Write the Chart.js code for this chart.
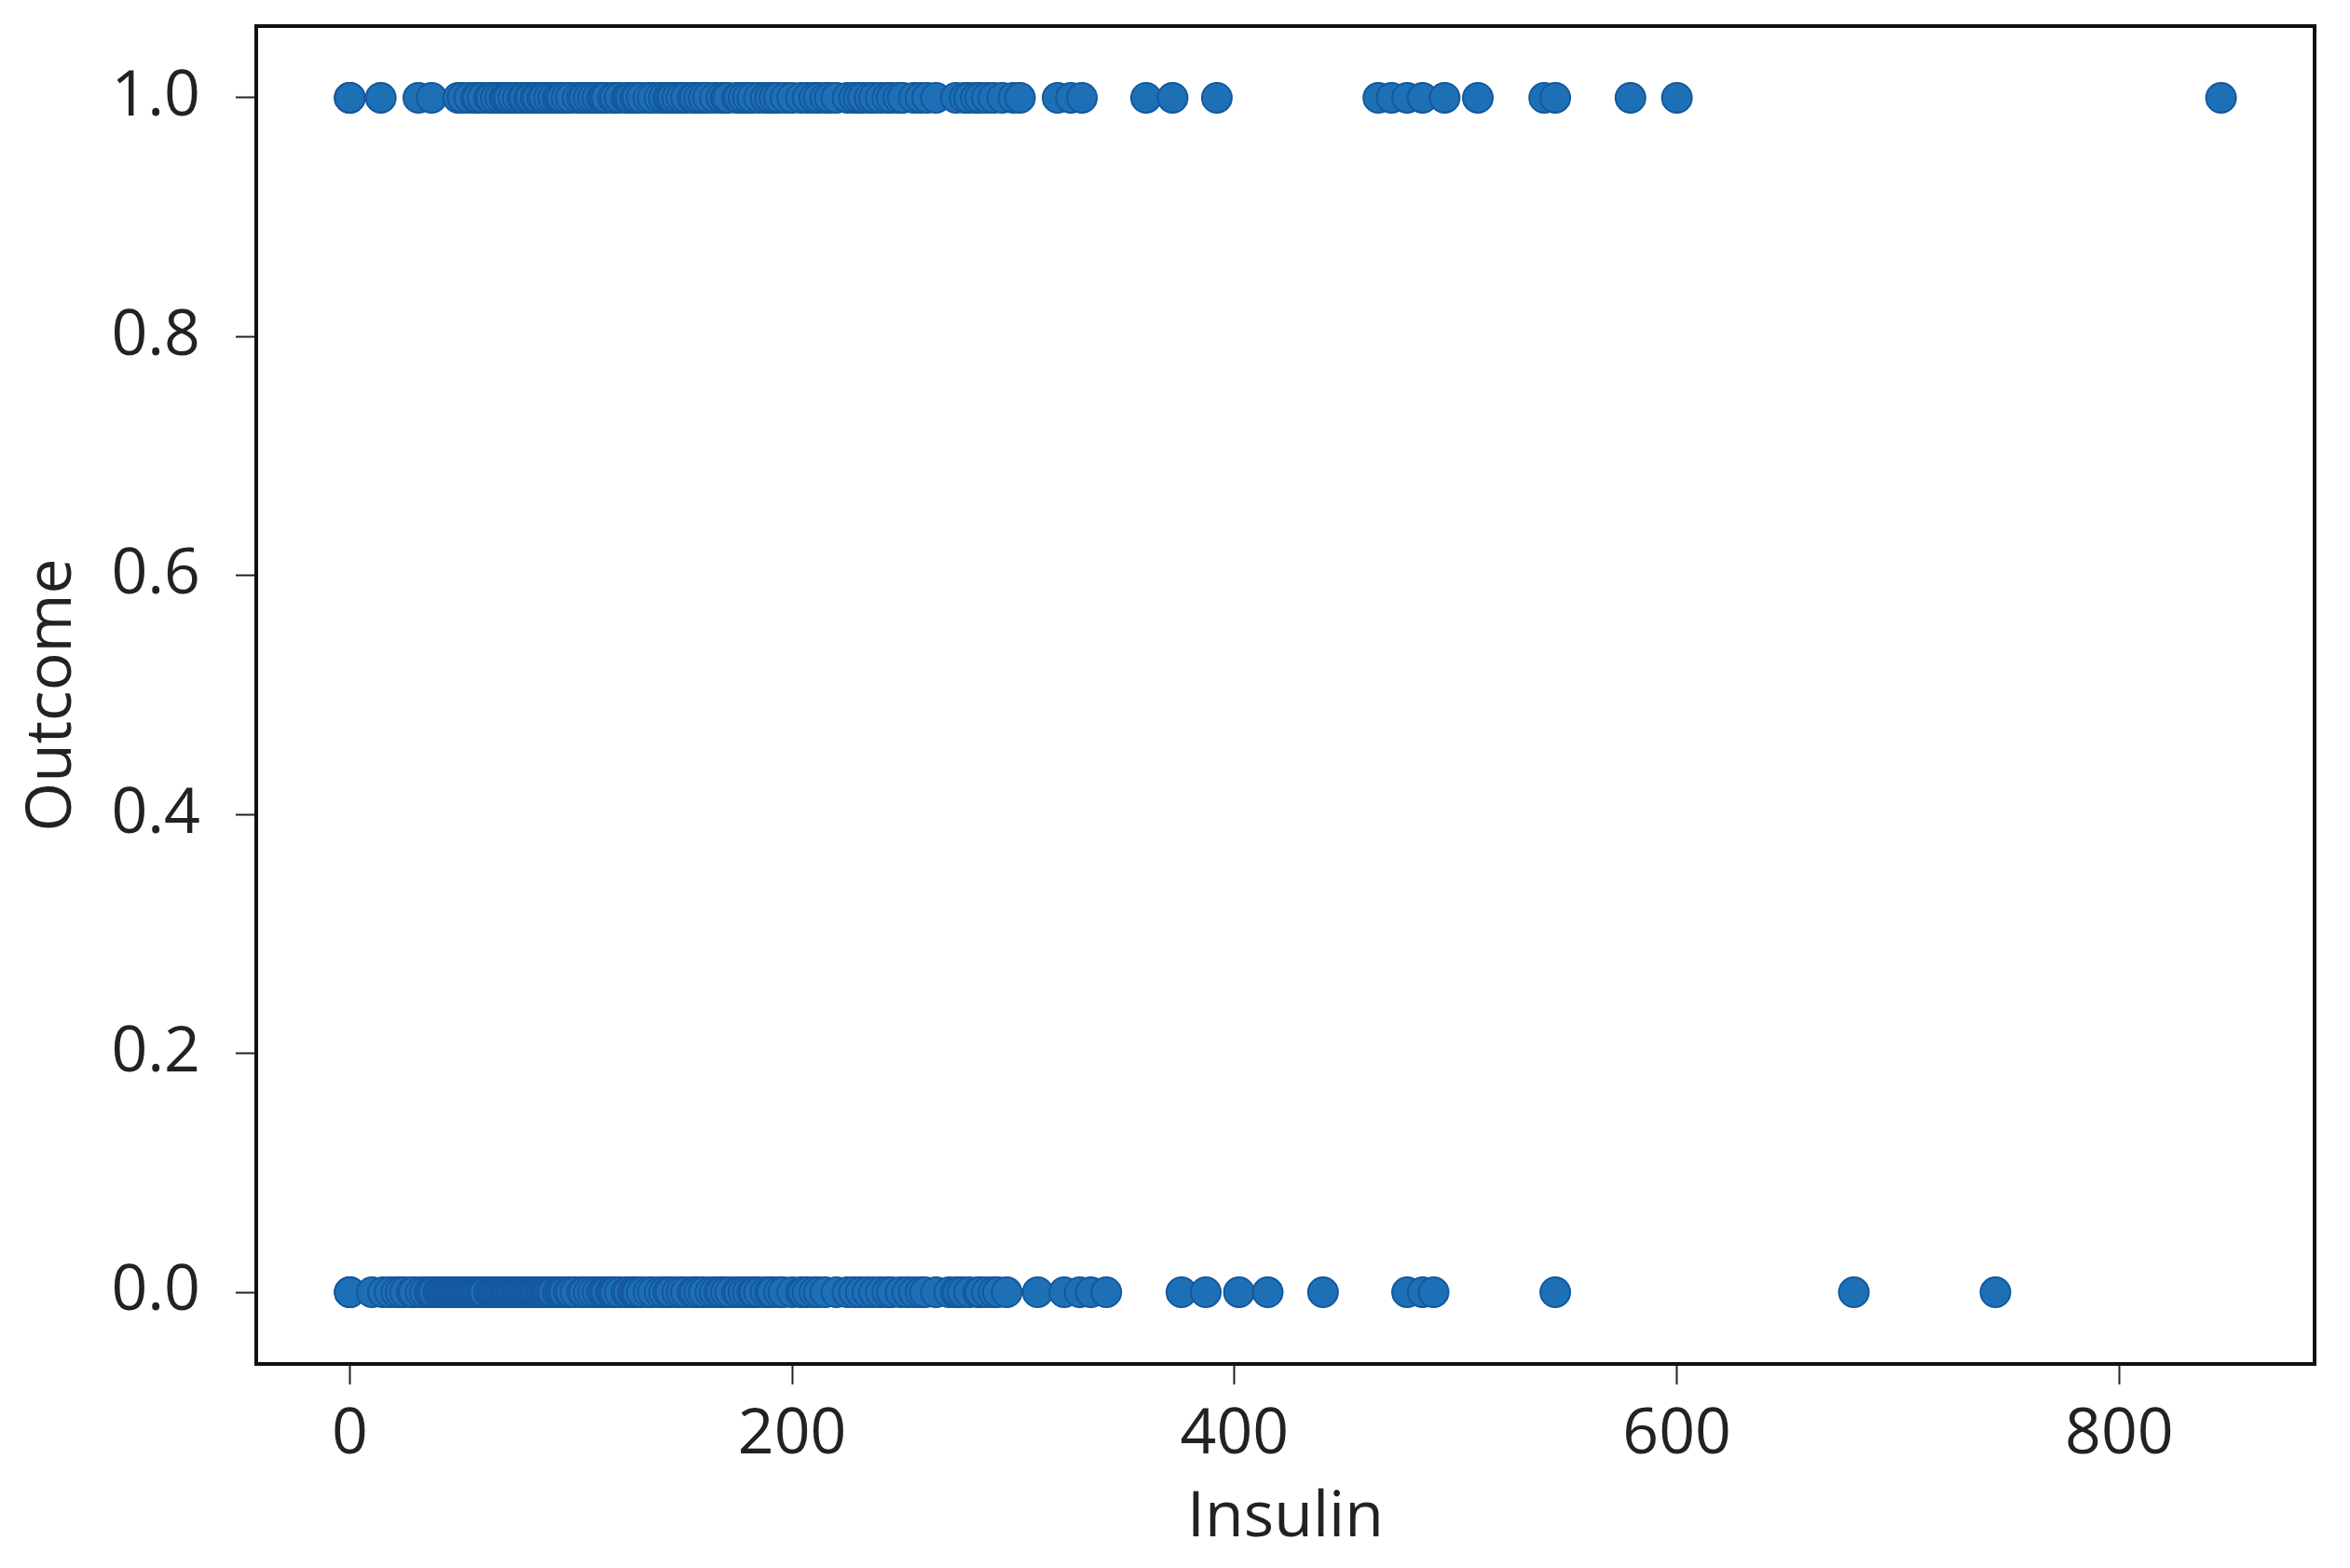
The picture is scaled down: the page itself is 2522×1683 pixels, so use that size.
<!DOCTYPE html>
<html>
<head>
<meta charset="utf-8">
<script src="https://cdn.jsdelivr.net/npm/chart.js@4.4.1/dist/chart.umd.min.js"></script>
<style>
  html, body { margin: 0; padding: 0; background: #fff; }
  canvas { display: block; }
</style>
</head>
<body>
<canvas id="myChart" width="2522" height="1683"></canvas>
<script>
// Insulin values per outcome
const insulinOutcome1 = [0, 0, 0, 14, 31, 37, 49, 51, 54, 57, 58, 60, 63, 64, 66, 68, 70, 71, 72, 74, 76, 78, 79, 81, 82, 84, 85, 87, 88, 90, 92, 94, 95, 96, 98, 100, 103, 105, 106, 108, 110, 112, 114, 115, 116, 119, 120, 122, 125, 126, 127, 129, 130, 132, 135, 137, 140, 142, 144, 145, 146, 148, 150, 152, 155, 156, 158, 160, 162, 165, 168, 170, 171, 175, 176, 178, 180, 182, 185, 188, 190, 192, 194, 197, 200, 204, 207, 210, 212, 215, 217, 220, 225, 228, 230, 232, 235, 237, 240, 243, 245, 248, 250, 255, 258, 261, 265, 274, 278, 280, 283, 285, 288, 291, 295, 300, 303, 320, 326, 331, 360, 372, 392, 465, 471, 478, 485, 495, 510, 540, 545, 579, 600, 846];
const insulinOutcome0 = [0, 0, 0, 10, 15, 18, 21, 23, 25, 28, 29, 32, 34, 36, 37, 38, 40, 41, 42, 43, 44, 45, 46, 47, 48, 49, 50, 51, 52, 53, 54, 55, 56, 57, 58, 59, 60, 61, 63, 64, 65, 66, 67, 68, 69, 70, 71, 72, 73, 74, 75, 76, 77, 78, 79, 80, 81, 82, 83, 84, 85, 86, 87, 88, 89, 90, 91, 92, 94, 95, 96, 97, 99, 100, 102, 105, 106, 108, 110, 112, 114, 115, 116, 118, 119, 120, 122, 125, 126, 128, 129, 130, 132, 135, 137, 140, 142, 144, 145, 148, 150, 152, 155, 156, 158, 160, 163, 165, 167, 168, 170, 172, 175, 176, 178, 180, 182, 183, 185, 188, 190, 191, 194, 196, 200, 204, 205, 207, 210, 212, 215, 220, 225, 228, 231, 234, 237, 240, 243, 245, 249, 252, 255, 258, 260, 265, 271, 274, 275, 277, 280, 284, 285, 288, 291, 293, 297, 311, 323, 330, 335, 342, 376, 387, 402, 415, 440, 478, 485, 490, 545, 680, 744];

const xTicks = [0, 200, 400, 600, 800];
const yTicks = [0, 0.2, 0.4, 0.6, 0.8, 1.0];

const points = [];
insulinOutcome1.forEach(v => points.push({ x: v, y: 1 }));
insulinOutcome0.forEach(v => points.push({ x: v, y: 0 }));

const textColor = '#222';
const fontFamily = '"Open Sans", "DejaVu Sans", sans-serif';

// full box around the plot, like the matplotlib spines
const frame = {
  id: 'frame',
  afterDatasetsDraw(chart) {
    const { ctx, chartArea: a } = chart;
    ctx.save();
    ctx.strokeStyle = '#111';
    ctx.lineWidth = 4;
    ctx.strokeRect(a.left, a.top, a.right - a.left, a.bottom - a.top);
    ctx.restore();
  }
};

const ctx = document.getElementById('myChart');

new Chart(ctx, {
  type: 'scatter',
  data: {
    datasets: [
      {
        label: 'Outcome',
        data: points,
        backgroundColor: 'rgb(30, 112, 182)',
        borderColor: 'rgb(20, 88, 158)',
        borderWidth: 2,
        pointRadius: 16,
        pointHoverRadius: 16
      }
    ]
  },
  plugins: [frame],
  options: {
    responsive: false,
    animation: false,
    devicePixelRatio: 1,
    layout: { padding: { top: 28, right: 38, left: 0, bottom: 0 } },
    plugins: {
      legend: { display: false },
      tooltip: { enabled: false }
    },
    scales: {
      x: {
        type: 'linear',
        min: -42.3,
        max: 888.3,
        afterFit: s => { s.height = 219; s.paddingLeft = 0; s.paddingRight = 0; },
        afterBuildTicks: s => { s.ticks = xTicks.map(v => ({ value: v })); },
        border: { display: false },
        grid: { drawOnChartArea: false, drawTicks: true, tickLength: 22, tickWidth: 2, tickColor: '#222' },
        ticks: { color: textColor, padding: 14, font: { family: fontFamily, size: 68 }, maxRotation: 0 },
        title: { display: true, text: 'Insulin', color: textColor, padding: { top: 0, bottom: 13 }, font: { family: fontFamily, size: 68 } }
      },
      y: {
        type: 'linear',
        min: -0.06,
        max: 1.06,
        afterFit: s => { s.width = 275; s.paddingTop = 0; s.paddingBottom = 0; },
        afterBuildTicks: s => { s.ticks = yTicks.map(v => ({ value: v })); },
        border: { display: false },
        grid: { drawOnChartArea: false, drawTicks: true, tickLength: 22, tickWidth: 2, tickColor: '#222' },
        ticks: { color: textColor, padding: 38, font: { family: fontFamily, size: 68 }, callback: v => Number(v).toFixed(1) },
        title: { display: true, text: 'Outcome', color: textColor, padding: { top: 16, bottom: 0 }, font: { family: fontFamily, size: 68 } }
      }
    }
  }
});
</script>
</body>
</html>
